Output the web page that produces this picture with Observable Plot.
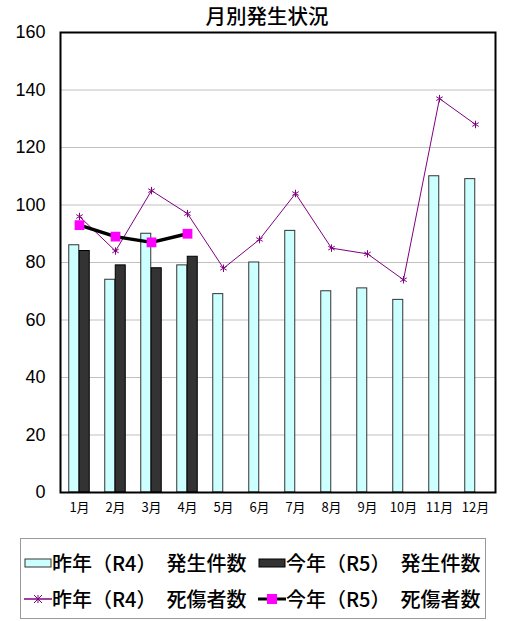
<!DOCTYPE html>
<html><head><meta charset="utf-8">
<script src="https://cdn.jsdelivr.net/npm/d3@7"></script>
<script src="https://cdn.jsdelivr.net/npm/@observablehq/plot@0.6"></script>
<style>
body{margin:0;background:#fff;font-family:"Noto Sans CJK JP",sans-serif;}
#wrap{position:relative;width:508px;height:621px;}
#title{position:absolute;left:0;top:1px;width:534px;text-align:center;font-size:20.5px;font-weight:500;line-height:28px;}
#chart{position:absolute;left:0;top:0;}
#legend{position:absolute;left:20px;top:538px;width:466px;height:81px;border:1px solid #999;box-sizing:border-box;font-size:20px;font-weight:500;}
.item{position:absolute;display:flex;align-items:center;white-space:pre;line-height:24px;}
.item svg{margin-right:0px;}
</style></head>
<body><div id="wrap"><div id="title">月別発生状況</div><div id="chart"></div><div id="legend"></div></div>
<script>
const months = ["1月","2月","3月","4月","5月","6月","7月","8月","9月","10月","11月","12月"];
const incidentsR4 = [86,74,90,79,69,80,91,70,71,67,110,109];
const incidentsR5 = [84,79,78,82];
const casualtiesR4 = [96,84,105,97,78,88,104,85,83,74,137,128];
const casualtiesR5 = [93,89,87,90];
const yTicks = [0,20,40,60,80,100,120,140,160];
const legendLabels = ["昨年（R4）　発生件数","今年（R5）　発生件数","昨年（R4）　死傷者数","今年（R5）　死傷者数"];

const r4bars = months.map((m,i)=>({m, v:incidentsR4[i]}));
const r5bars = incidentsR5.map((v,i)=>({m:months[i], v}));
const r4line = months.map((m,i)=>({m, v:casualtiesR4[i]}));
const r5line = casualtiesR5.map((v,i)=>({m:months[i], v}));

const chart = Plot.plot({
  width:508, height:525,
  marginTop:32, marginBottom:33, marginLeft:60, marginRight:13,
  style:{fontFamily:"'Noto Sans CJK JP', sans-serif", color:"#000", background:"transparent"},
  x:{type:"band", domain:months, paddingInner:0.71, paddingOuter:0.355, axis:null, label:null},
  y:{domain:[0,160], ticks:yTicks, axis:null, label:null},
  marks:[
    Plot.ruleY(yTicks.filter(t=>t>0 && t<160), {stroke:"#c0c0c0", strokeWidth:1}),
    Plot.barY(r4bars, {x:"m", y:"v", dx:-5.25, fill:"#ccffff", stroke:"#333", strokeWidth:1}),
    Plot.barY(r5bars, {x:"m", y:"v", dx:5.25, fill:"#333333", stroke:"#000", strokeWidth:1}),
    Plot.line(r4line, {x:"m", y:"v", stroke:"#800080", strokeWidth:1}),
    Plot.dot(r4line, {x:"m", y:"v", symbol:"asterisk", r:3.5, stroke:"#800080", strokeWidth:1}),
    Plot.line(r5line, {x:"m", y:"v", stroke:"#000", strokeWidth:3.5}),
    Plot.dot(r5line, {x:"m", y:"v", symbol:"square", r:5.5, fill:"#ff00ff", stroke:"none"}),
    Plot.frame({stroke:"#000", strokeWidth:2}),
    Plot.axisY(yTicks, {tickSize:0, tickPadding:15, fontSize:18, label:null, fontFamily:"'Liberation Sans', Arial, sans-serif"}),
    Plot.axisX(months, {tickSize:0, tickPadding:10, fontSize:13, label:null, letterSpacing:"1px"})
  ]
});
document.getElementById("chart").appendChild(chart);

const sw = [
  `<svg width="28" height="14"><rect x="1" y="3" width="26" height="8" fill="#ccffff" stroke="#333" stroke-width="1"/></svg>`,
  `<svg width="28" height="14"><rect x="1" y="3" width="26" height="8" fill="#333333" stroke="#000" stroke-width="1"/></svg>`,
  `<svg width="28" height="14"><line x1="0" y1="7" x2="28" y2="7" stroke="#800080" stroke-width="1.5"/><path d="M10,3L18,11M18,3L10,11M14,3L14,11" stroke="#800080" stroke-width="1"/></svg>`,
  `<svg width="28" height="14"><line x1="0" y1="7" x2="28" y2="7" stroke="#000" stroke-width="3"/><rect x="9" y="2" width="10" height="10" fill="#ff00ff"/></svg>`
];
const pos = [[3,12],[237,12],[3,48],[237,48]];
const lg = document.getElementById("legend");
legendLabels.forEach((t,i)=>{
  const d = document.createElement("div");
  d.className="item";
  d.style.left=pos[i][0]+"px"; d.style.top=pos[i][1]+"px";
  d.innerHTML = sw[i] + `<span>${t}</span>`;
  lg.appendChild(d);
});
</script></body></html>
